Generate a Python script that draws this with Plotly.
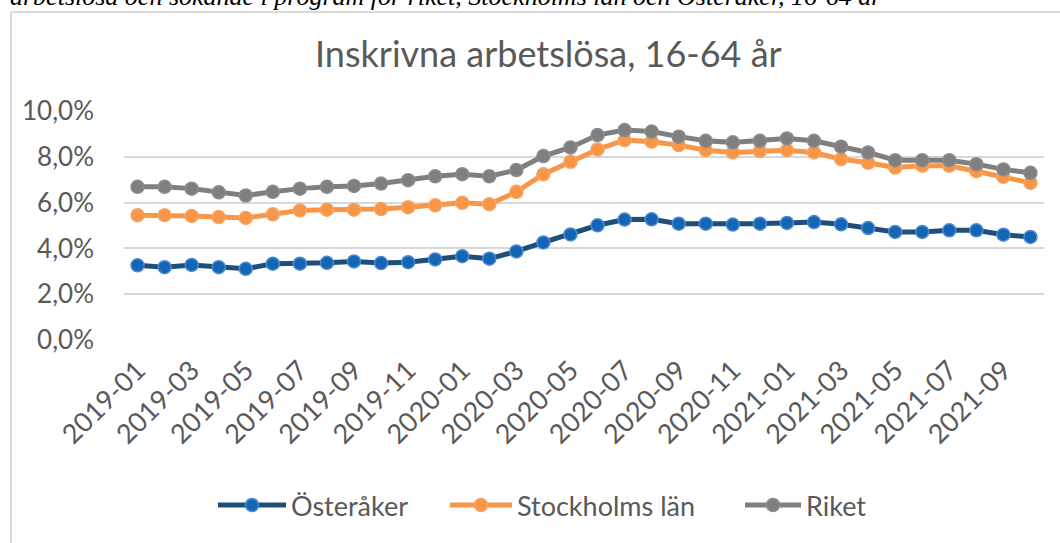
import plotly.graph_objects as go

months = ["2019-01","2019-02","2019-03","2019-04","2019-05","2019-06","2019-07","2019-08","2019-09","2019-10","2019-11","2019-12",
          "2020-01","2020-02","2020-03","2020-04","2020-05","2020-06","2020-07","2020-08","2020-09","2020-10","2020-11","2020-12",
          "2021-01","2021-02","2021-03","2021-04","2021-05","2021-06","2021-07","2021-08","2021-09","2021-10"]

osteraker = [3.26, 3.18, 3.28, 3.18, 3.11, 3.33, 3.33, 3.37, 3.43, 3.36, 3.40, 3.52,
             3.66, 3.55, 3.87, 4.26, 4.61, 5.01, 5.26, 5.27, 5.08, 5.08, 5.04, 5.08,
             5.11, 5.15, 5.05, 4.89, 4.72, 4.72, 4.79, 4.79, 4.60, 4.50]
stockholm = [5.45, 5.45, 5.42, 5.37, 5.33, 5.49, 5.66, 5.69, 5.69, 5.72, 5.80, 5.88,
             5.99, 5.93, 6.47, 7.24, 7.78, 8.32, 8.73, 8.66, 8.51, 8.29, 8.19, 8.25,
             8.29, 8.19, 7.90, 7.74, 7.53, 7.61, 7.61, 7.37, 7.12, 6.86]
riket = [6.69, 6.69, 6.61, 6.45, 6.31, 6.47, 6.61, 6.69, 6.73, 6.83, 6.98, 7.15,
         7.24, 7.15, 7.42, 8.03, 8.41, 8.95, 9.17, 9.10, 8.88, 8.70, 8.63, 8.70,
         8.80, 8.70, 8.44, 8.19, 7.85, 7.85, 7.85, 7.68, 7.45, 7.30]

y_tickvals = [0, 2, 4, 6, 8, 10]
y_ticktext = ["0,0%", "2,0%", "4,0%", "6,0%", "8,0%", "10,0%"]
x_tickvals = months[::2]

title = "Inskrivna arbetslösa, 16-64 år"
caption = "arbetslösa och sökande i program för riket, Stockholms län och Österåker, 16-64 år"

FONT = "Lato"
TXT = "#595959"

series = [
    ("Österåker", osteraker, "#1F4E79", "#1565B5", "#4A8BD0"),
    ("Stockholms län", stockholm, "#F79646", "#F79646", "#F8A464"),
    ("Riket", riket, "#7F7F7F", "#7F7F7F", "#8C8C8C"),
]

W, H = 1060, 543
L, R, T, B = 124, 16, 111, 203
pw = W - L - R
ph = H - T - B

def px2x(px):
    return (px - L) / pw

def py2y(py):
    return (H - B - py) / ph

fig = go.Figure()
for name, vals, lc, mc, mlc in series:
    fig.add_trace(go.Scatter(
        x=months, y=vals, name=name, mode="lines+markers",
        line=dict(color=lc, width=5),
        marker=dict(size=13, color=mc, line=dict(color=mlc, width=1.5)),
        showlegend=False,
    ))

# custom legend (line segment + marker + label)
legend_pos = [(218, 286), (450, 512), (745, 801)]
legend_y = 505
shapes = [
    dict(type="line", xref="paper", yref="paper", x0=px2x(11), x1=px2x(1070), y0=py2y(12), y1=py2y(12),
         line=dict(color="#D9D9D9", width=2), layer="below"),
    dict(type="line", xref="paper", yref="paper", x0=px2x(11), x1=px2x(11), y0=py2y(12), y1=py2y(560),
         line=dict(color="#D9D9D9", width=2), layer="below"),
]
annotations = [
    dict(text=title, xref="paper", yref="paper", x=px2x(548), y=py2y(53),
         xanchor="center", yanchor="middle", showarrow=False,
         font=dict(size=36, color=TXT, family=FONT)),
    dict(text="<i>" + caption + "</i>", xref="paper", yref="paper", x=px2x(8), y=py2y(13),
         xanchor="left", yanchor="bottom", showarrow=False,
         font=dict(size=26, color="#000000", family="Liberation Serif")),
]
for (name, vals, lc, mc, mlc), (x0, x1) in zip(series, legend_pos):
    cx = (x0 + x1) / 2
    shapes.append(dict(type="line", xref="paper", yref="paper", x0=px2x(x0), x1=px2x(x1),
                       y0=py2y(legend_y), y1=py2y(legend_y), line=dict(color=lc, width=5)))
    shapes.append(dict(type="circle", xref="paper", yref="paper", x0=px2x(cx - 6.5), x1=px2x(cx + 6.5),
                       y0=py2y(legend_y + 6.5), y1=py2y(legend_y - 6.5),
                       fillcolor=mc, line=dict(color=mlc, width=1.5)))
    annotations.append(dict(text=name, xref="paper", yref="paper", x=px2x(x1 + 3), y=py2y(legend_y),
                            xanchor="left", yanchor="middle", showarrow=False,
                            font=dict(size=27, color=TXT, family=FONT)))

fig.update_layout(
    width=W, height=H,
    margin=dict(l=L, r=R, t=T, b=B),
    paper_bgcolor="white", plot_bgcolor="white",
    font=dict(family=FONT, color=TXT, size=25),
    showlegend=False,
    xaxis=dict(type="category", range=[-0.5, 33.5], tickmode="array", tickvals=x_tickvals,
               ticktext=x_tickvals, tickangle=-45, showgrid=False, showline=False,
               ticks="", tickfont=dict(size=27, color=TXT), zeroline=False,
               ticklabelstandoff=8),
    yaxis=dict(range=[0, 10], tickmode="array", tickvals=y_tickvals, ticktext=y_ticktext,
               showgrid=True, gridcolor="#D9D9D9", gridwidth=1.5, zeroline=False,
               showline=False, ticks="", tickfont=dict(size=26, color=TXT),
               ticklabelstandoff=29),
    annotations=annotations,
    shapes=shapes,
)

fig.write_html("out.html", config={"displayModeBar": False},
               post_script="document.body.style.margin='0';document.body.style.overflow='hidden';")
